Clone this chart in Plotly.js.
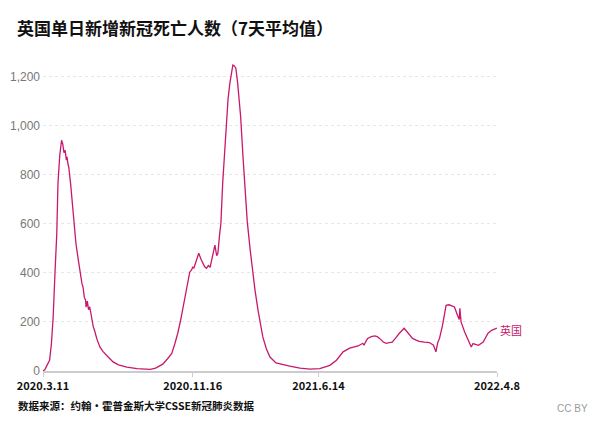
<!DOCTYPE html>
<html>
<head>
<meta charset="utf-8">
<script src="https://cdn.plot.ly/plotly-3.0.1.min.js"></script>
<style>
html,body{margin:0;padding:0;background:#fff;}
#chart{width:600px;height:423px;}
</style>
</head>
<body>
<div id="chart"></div>
<script>
// Daily new COVID-19 deaths in the UK, 7-day average
const dates = [
"2020-03-11","2020-03-14","2020-03-17","2020-03-20","2020-03-22","2020-03-25","2020-03-28","2020-03-31",
"2020-04-03","2020-04-05","2020-04-08","2020-04-11","2020-04-13","2020-04-15","2020-04-17","2020-04-19",
"2020-04-20","2020-04-22","2020-04-23","2020-04-26","2020-04-29","2020-05-01","2020-05-05","2020-05-09",
"2020-05-12","2020-05-15","2020-05-17","2020-05-19","2020-05-21","2020-05-22","2020-05-24","2020-05-26",
"2020-05-28","2020-05-30","2020-05-31","2020-06-03","2020-06-05","2020-06-09","2020-06-14","2020-06-19",
"2020-06-25","2020-06-30","2020-07-06","2020-07-15","2020-07-29","2020-08-15","2020-09-06","2020-09-15",
"2020-09-27","2020-10-05","2020-10-12","2020-10-17","2020-10-22","2020-10-27","2020-10-31","2020-11-05",
"2020-11-11","2020-11-14","2020-11-16","2020-11-18","2020-11-21","2020-11-26","2020-11-30","2020-12-03",
"2020-12-06","2020-12-09","2020-12-12","2020-12-15","2020-12-19","2020-12-23","2020-12-26","2020-12-28",
"2020-12-31","2021-01-02","2021-01-05","2021-01-09","2021-01-12","2021-01-14","2021-01-17","2021-01-20",
"2021-01-22","2021-01-24","2021-01-27","2021-01-30","2021-02-02","2021-02-04","2021-02-08","2021-02-11",
"2021-02-15","2021-02-20","2021-02-24","2021-02-28","2021-03-05","2021-03-09","2021-03-13","2021-03-19",
"2021-03-25","2021-04-04","2021-04-12","2021-04-27","2021-05-14","2021-05-31","2021-06-16","2021-07-03",
"2021-07-14","2021-07-20","2021-07-25","2021-08-05","2021-08-19","2021-08-27","2021-08-29","2021-09-01",
"2021-09-04","2021-09-10","2021-09-16","2021-09-20","2021-09-24","2021-09-30","2021-10-05","2021-10-10",
"2021-10-15","2021-10-21","2021-10-27","2021-11-04","2021-11-09","2021-11-13","2021-11-18","2021-11-24",
"2021-11-29","2021-12-08","2021-12-16","2021-12-23","2021-12-27","2021-12-30","2022-01-02","2022-01-07",
"2022-01-10","2022-01-13","2022-01-18","2022-01-23","2022-01-27","2022-02-01","2022-02-04","2022-02-05",
"2022-02-07","2022-02-13","2022-02-18","2022-02-24","2022-02-27","2022-03-03","2022-03-08","2022-03-16",
"2022-03-24","2022-03-30","2022-04-04","2022-04-08"
];
const deaths = [
1,5,20,38,44,110,220,400,
560,766,880,941,925,890,900,860,
873,840,832,766,680,602,520,452,
400,357,340,300,290,260,285,250,
262,235,210,180,166,130,98,80,
64,50,37,25,16,10,7,12,
28,50,72,110,154,210,260,330,
403,412,423,420,445,480,455,439,
425,419,430,423,470,513,470,480,
560,602,766,914,1064,1110,1174,1225,
1248,1245,1235,1174,1090,1037,870,737,
610,492,400,329,248,190,139,90,
57,33,28,20,12,8,10,23,
44,62,78,93,102,113,105,120,
133,140,143,140,133,118,113,116,
118,135,154,174,159,150,133,126,
121,118,116,105,78,115,133,186,
235,268,270,265,261,227,210,256,
200,159,133,98,112,108,105,118,
154,166,172,175
];
const seriesName = "英国";
const tickDates = ["2020-03-11","2020-11-16","2021-06-14","2022-04-08"];
const tickLabels = ["2020.3.11","2020.11.16","2021.6.14","2022.4.8"];
const yTicks = [0,200,400,600,800,1000,1200];
const titleText = "英国单日新增新冠死亡人数（7天平均值）";
const sourceText = "数据来源：约翰·霍普金斯大学CSSE新冠肺炎数据";
const licenseText = "CC BY";

const lineColor = "#c8186c";
const cjk = "'Noto Sans CJK SC', 'Noto Sans', sans-serif";

const trace = {
  x: dates, y: deaths, type: "scatter", mode: "lines",
  line: {color: lineColor, width: 1.3},
  name: seriesName, hoverinfo: "x+y"
};

const layout = {
  width: 600, height: 423,
  margin: {l: 43, r: 103, t: 63, b: 52},
  paper_bgcolor: "#fff", plot_bgcolor: "#fff",
  showlegend: false,
  title: {
    text: "<b>" + titleText + "</b>",
    font: {family: cjk, size: 17, color: "#111"},
    xref: "container", yref: "container",
    x: 17/600, xanchor: "left",
    y: 1 - 29.5/423, yanchor: "middle"
  },
  xaxis: {
    type: "date",
    range: ["2020-03-11", "2022-04-08"],
    tickvals: tickDates, ticktext: tickLabels,
    tickfont: {family: cjk, size: 11, color: "#111", weight: "bold"},
    showgrid: false, zeroline: false,
    showline: true, linecolor: "#cccccc", linewidth: 1.5,
    ticks: "outside", ticklen: 4, tickcolor: "#cccccc", tickwidth: 1,
    fixedrange: true
  },
  yaxis: {
    range: [0, 1256],
    tickvals: yTicks, tickformat: ",d",
    tickfont: {family: "'Liberation Sans', Arial, sans-serif", size: 12, color: "#777"},
    showgrid: true, gridcolor: "#e6e6e6", griddash: "dot", gridwidth: 1,
    zeroline: false, showline: false, ticks: "",
    ticklabelstandoff: 2,
    fixedrange: true
  },
  annotations: [
    {
      x: dates[dates.length-1], y: deaths[deaths.length-1],
      xref: "x", yref: "y", text: seriesName, showarrow: false,
      xanchor: "left", yanchor: "middle", xshift: 1, yshift: -2,
      font: {family: cjk, size: 11, color: lineColor}
    },
    {
      x: (16-43)/454, y: (371-406)/308, xref: "paper", yref: "paper",
      text: "<b>" + sourceText + "</b>", showarrow: false,
      xanchor: "left", yanchor: "middle",
      font: {family: cjk, size: 10.5, color: "#111"}
    },
    {
      x: (590-43)/454, y: (371-408)/308, xref: "paper", yref: "paper",
      text: licenseText, showarrow: false,
      xanchor: "right", yanchor: "middle",
      font: {family: "'Liberation Sans', Arial, sans-serif", size: 10, color: "#9a9a9a"}
    }
  ]
};

Plotly.newPlot("chart", [trace], layout, {displayModeBar: false, staticPlot: true});
</script>
</body>
</html>
